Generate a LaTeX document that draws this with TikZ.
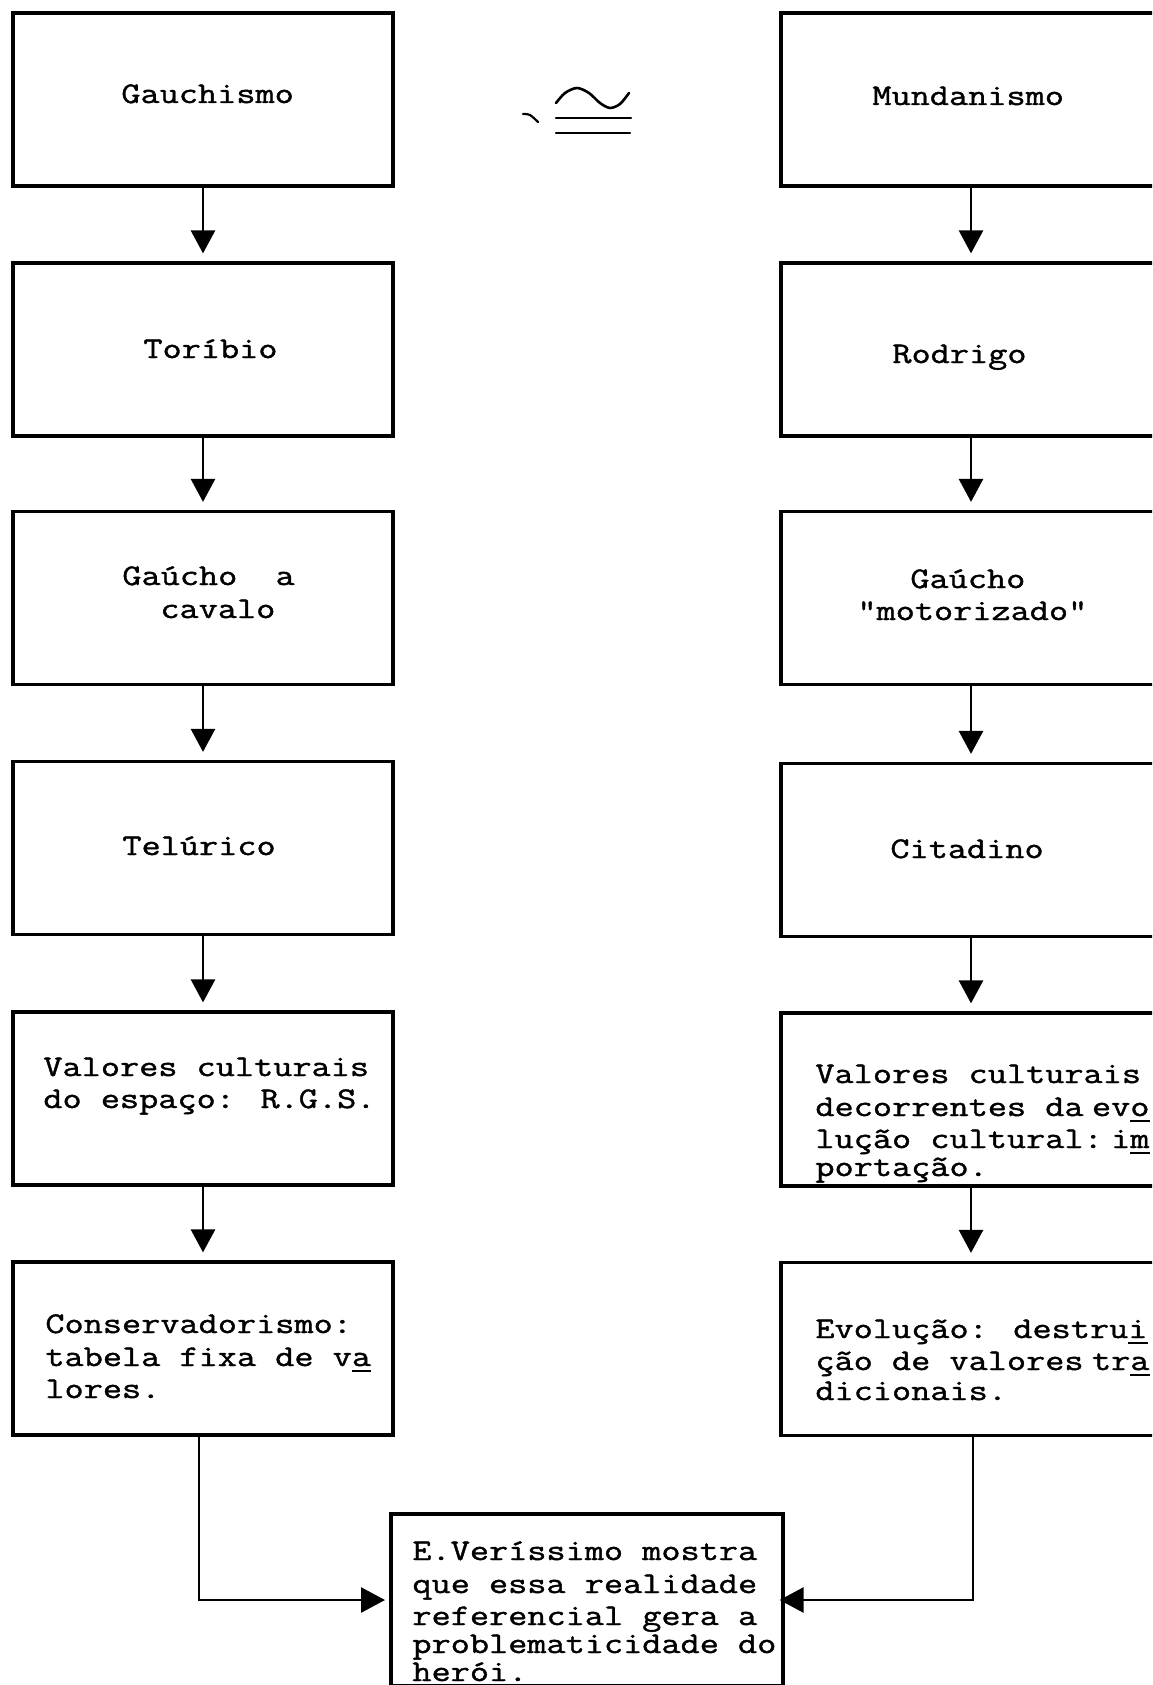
\documentclass[tikz,border=0pt]{standalone}
\usepackage{fontspec}
\usetikzlibrary{arrows.meta}
\newfontfamily\tw{Latin Modern Mono}[FakeStretch=1.24,FakeBold=1.3,Ligatures=TeXOff]
\newcommand\us[1]{\rlap{\rule[-2.8pt]{0.65em}{0.9pt}}#1}
\newcommand\hs{\hspace{4.2pt}}
\begin{document}
\begin{tikzpicture}[x=0.5pt,y=-0.5pt,
  box/.style={draw, line width=1.6pt, minimum width=190pt, minimum height=86.5pt, inner sep=0pt},
  txt/.style={font={\tw\fontsize{15pt}{16pt}\selectfont}, anchor=base west, inner sep=0pt},
  arr/.style={line width=1.35pt, -{Triangle[width=12pt,length=11.5pt]}, shorten >=4pt},
  con/.style={line width=1.35pt, -{Triangle[width=12.5pt,length=12pt]}},
  sym/.style={line width=1.1pt, line cap=round}
]
\useasboundingbox (0,0) rectangle (1152,1685);
\clip (0,0) rectangle (1152,1685);

% left column boxes
\node[box] (L1) at (203,99.5) {};
\node[box] (L2) at (203,349.5) {};
\node[box] (L3) at (203,598) {};
\node[box] (L4) at (203,848) {};
\node[box] (L5) at (203,1098.5) {};
\node[box] (L6) at (203,1348.5) {};
% right column boxes
\node[box] (R1) at (971,99.5) {};
\node[box] (R2) at (971,349.5) {};
\node[box] (R3) at (971,598) {};
\node[box] (R4) at (971,850) {};
\node[box] (R5) at (971,1099.5) {};
\node[box] (R6) at (971,1349) {};
% bottom box
\node[box, minimum width=196pt, minimum height=86pt] (B) at (587,1600) {};

% left texts
\node[txt] (tL1) at (121,103) {Gauchismo};
\node[txt] (tL2) at (143,358) {Toríbio};
\node[txt] (tL3a) at (122,585) {Gaúcho\ \ a};
\node[txt] (tL3b) at (160,618) {cavalo};
\node[txt] (tL4) at (122,855) {Telúrico};
\node[txt] (tL5a) at (43,1076) {Valores culturais};
\node[txt] (tL5b) at (43,1108) {do espaço: R.G.S.};
\node[txt] (tL6a) at (45,1333) {Conservadorismo:};
\node[txt] (tL6b) at (45,1366) {tabela fixa de v\us{a}};
\node[txt] (tL6c) at (45,1398) {lores.};

% right texts
\node[txt] (tR1) at (872,105) {Mundanismo};
\node[txt] (tR2) at (892,363) {Rodrigo};
\node[txt] (tR3a) at (910,588) {Gaúcho};
\node[txt] (tR3b) at (857,620) {"motorizado"};
\node[txt] (tR4) at (890,858) {Citadino};
\node[txt] (tR5a) at (815,1083) {Valores culturais};
\node[txt] (tR5b) at (815,1116) {decorrentes da\hs ev\us{o}};
\node[txt] (tR5c) at (815,1148) {lução cultural:\hs i\us{m}};
\node[txt] (tR5d) at (815,1176) {portação.};
\node[txt] (tR6a) at (815,1338) {Evolução: destru\us{i}};
\node[txt] (tR6b) at (815,1370) {ção de valores\hs tr\us{a}};
\node[txt] (tR6c) at (815,1400) {dicionais.};

% bottom texts
\node[txt] (tB1) at (412,1560) {E.Veríssimo mostra};
\node[txt] (tB2) at (412,1593) {que essa realidade};
\node[txt] (tB3) at (412,1625) {referencial gera a};
\node[txt] (tB4) at (412,1653) {problematicidade do};
\node[txt] (tB5) at (412,1681) {herói.};

% arrows
\draw[arr] (L1) -- (L2);
\draw[arr] (L2) -- (L3);
\draw[arr] (L3) -- (L4);
\draw[arr] (L4) -- (L5);
\draw[arr] (L5) -- (L6);
\draw[arr] (R1) -- (R2);
\draw[arr] (R2) -- (R3);
\draw[arr] (R3) -- (R4);
\draw[arr] (R4) -- (R5);
\draw[arr] (R5) -- (R6);
\draw[con, shorten >=2.2pt] ([xshift=-2pt]L6.south) |- (B.west);
\draw[con, shorten >=-2.5pt] ([xshift=1pt]R6.south) |- (B.east);

% approximately-equal sign
\draw[sym, line width=1.3pt] plot[smooth] coordinates {(556,103) (565,93) (577,88) (589,93) (600,103) (610,108) (620,104) (629,93)};
\draw[sym] (556,118) -- (631,118);
\draw[sym] (556,133) -- (630,133);
\draw[sym] plot[smooth] coordinates {(523,114) (530,115) (538,122)};
\end{tikzpicture}
\end{document}
